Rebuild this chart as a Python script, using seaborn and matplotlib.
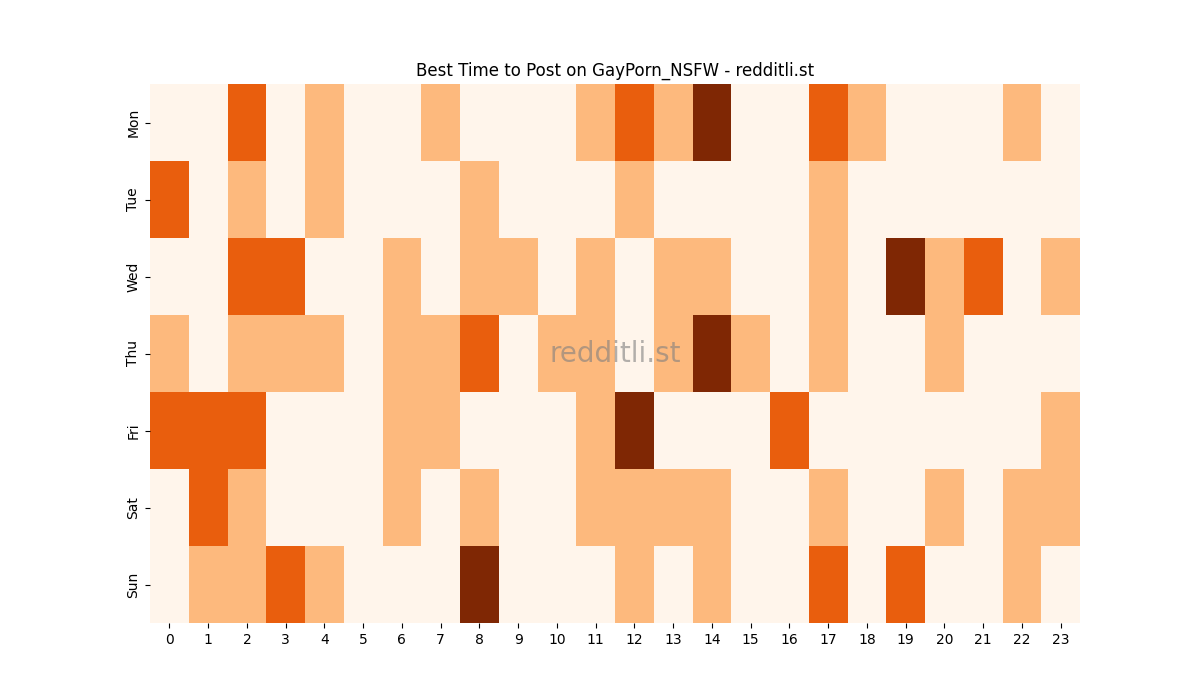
import matplotlib
matplotlib.use("Agg")
import matplotlib.pyplot as plt
import seaborn as sns
import pandas as pd

days = ["Mon", "Tue", "Wed", "Thu", "Fri", "Sat", "Sun"]
hours = list(range(24))
mon = [0,0,2,0,1,0,0,1,0,0,0,1,2,1,3,0,0,2,1,0,0,0,1,0]
tue = [2,0,1,0,1,0,0,0,1,0,0,0,1,0,0,0,0,1,0,0,0,0,0,0]
wed = [0,0,2,2,0,0,1,0,1,1,0,1,0,1,1,0,0,1,0,3,1,2,0,1]
thu = [1,0,1,1,1,0,1,1,2,0,1,1,0,1,3,1,0,1,0,0,1,0,0,0]
fri = [2,2,2,0,0,0,1,1,0,0,0,1,3,0,0,0,2,0,0,0,0,0,0,1]
sat = [0,2,1,0,0,0,1,0,1,0,0,1,1,1,1,0,0,1,0,0,1,0,1,1]
sun = [0,1,1,2,1,0,0,0,3,0,0,0,1,0,1,0,0,2,0,2,0,0,1,0]

df = pd.DataFrame([mon, tue, wed, thu, fri, sat, sun], index=days, columns=hours)

fig, ax = plt.subplots(figsize=(12, 7), dpi=100)
sns.heatmap(df, cmap="Oranges", vmin=0, vmax=3, cbar=False, ax=ax)
ax.set_title("Best Time to Post on GayPorn_NSFW - redditli.st", fontsize=12)
ax.set_xlabel("")
ax.set_ylabel("")
ax.text(0.5, 0.5, "redditli.st", transform=ax.transAxes, ha="center", va="center",
        fontsize=20, color="grey", alpha=0.6)
fig.subplots_adjust(left=0.125, right=0.9, top=0.88, bottom=0.11)
fig.savefig("out.png", dpi=100)
